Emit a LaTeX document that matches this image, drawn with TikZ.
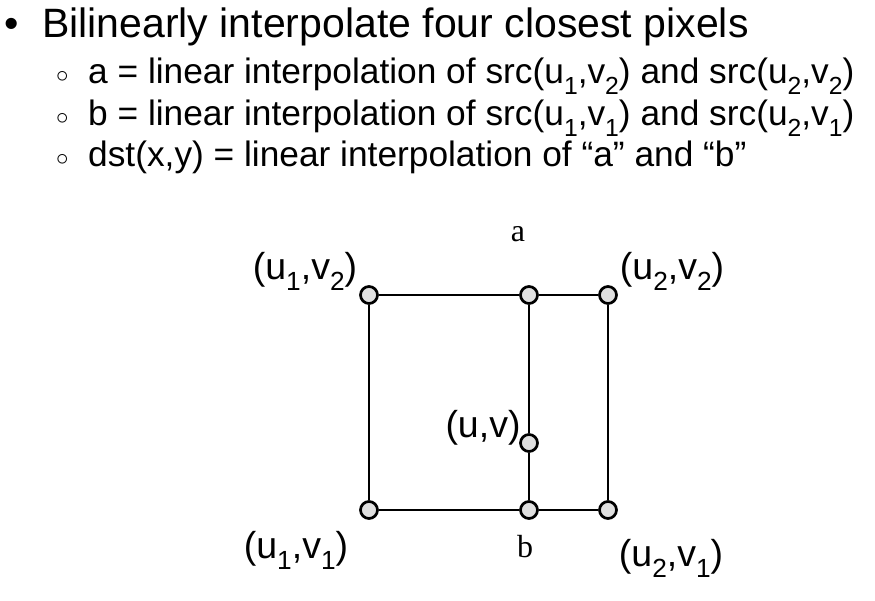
\documentclass[tikz,border=0pt]{standalone}
\usepackage{fontspec}
\usepackage{graphicx}
\setmainfont{Liberation Sans}
\newfontfamily\serifab{Liberation Serif}
\newcommand\sbs[1]{\raisebox{-0.3em}[0pt][0pt]{\scalebox{0.7}{#1}}}
\begin{document}
\begin{tikzpicture}[x=1pt,y=-1pt,
  pt/.style={circle,draw=black,fill=black!12,line width=2.7pt,minimum size=17pt,inner sep=0pt},
  edge/.style={draw=black,line width=2.7pt},
  lab/.style={font=\fontsize{37.5}{42}\selectfont,inner sep=0pt},
  ab/.style={font=\serifab\fontsize{32}{36}\selectfont,inner sep=0pt},
  l1/.style={font=\fontsize{41}{48}\selectfont,anchor=base west,inner sep=0pt},
  l2/.style={font=\fontsize{35.3}{40}\selectfont,anchor=base west,inner sep=0pt},
  cb/.style={font=\fontsize{24}{26}\selectfont,anchor=base west,inner sep=0pt}]
\useasboundingbox (0,0) rectangle (875,601);
% text lines
\node[l1] (b1) at (4,38) {\textbullet};
\node[l1] (t1) at (42,38) {Bilinearly interpolate four closest pixels};
\node[cb] (b2) at (56,83) {$\circ$};
\node[l2] (t2) at (88,84) {a = linear interpolation of src(u\sbs{1},v\sbs{2}) and src(u\sbs{2},v\sbs{2})};
\node[cb] (b3) at (56,125) {$\circ$};
\node[l2] (t3) at (88,126) {b = linear interpolation of src(u\sbs{1},v\sbs{1}) and src(u\sbs{2},v\sbs{1})};
\node[cb] (b4) at (56,166) {$\circ$};
\node[l2] (t4) at (88,167) {dst(x,y) = linear interpolation of “a” and “b”};
% grid points
\node[pt] (p12) at (369,295) {};
\node[pt] (pa) at (529,295) {};
\node[pt] (p22) at (608,295) {};
\node[pt] (p11) at (369,510) {};
\node[pt] (pb) at (529,510) {};
\node[pt] (p21) at (608,510) {};
\node[pt] (puv) at (529,443) {};
% edges
\draw[edge] (p12) -- (pa);
\draw[edge] (pa) -- (p22);
\draw[edge] (p11) -- (pb);
\draw[edge] (pb) -- (p21);
\draw[edge] (p12) -- (p11);
\draw[edge] (p22) -- (p21);
\draw[edge] (pa) -- (puv);
\draw[edge] (puv) -- (pb);
% labels
\node[lab] (l12) at (305,270) {(u\sbs{1},v\sbs{2})};
\node[lab] (l22) at (672,270) {(u\sbs{2},v\sbs{2})};
\node[lab] (l11) at (296,549) {(u\sbs{1},v\sbs{1})};
\node[lab] (l21) at (671,557) {(u\sbs{2},v\sbs{1})};
\node[lab] (luv) at (483,428) {(u,v)};
\node[ab] (la) at (518,234) {a};
\node[ab] (lb) at (525,547) {b};
\end{tikzpicture}
\end{document}
